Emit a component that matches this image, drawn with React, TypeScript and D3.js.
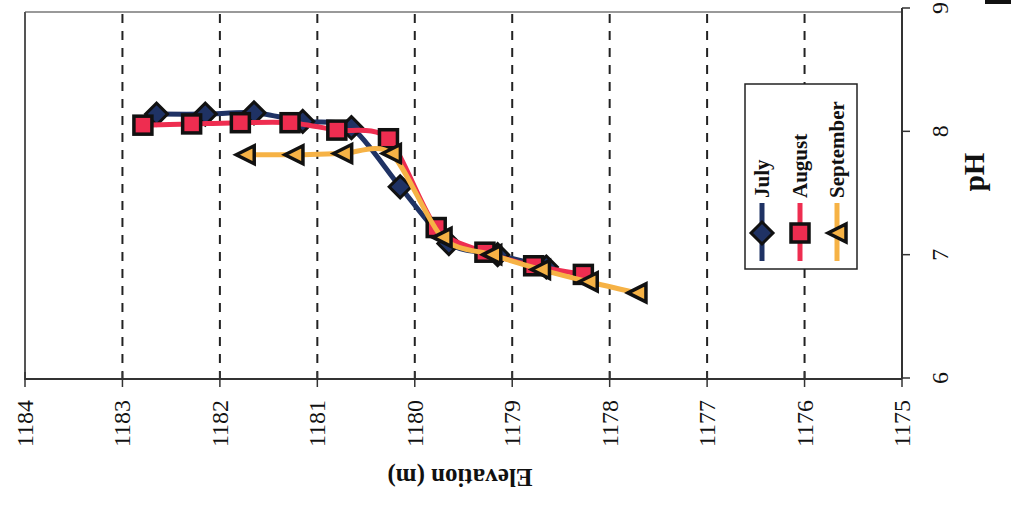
import React from "react";
import * as d3 from "d3";

const julyElev = [1182.65, 1182.15, 1181.65, 1181.15, 1180.65, 1180.15, 1179.65, 1179.15, 1178.65];
const julyPH = [8.14, 8.14, 8.15, 8.08, 8.03, 7.55, 7.09, 7.0, 6.9];
const augElev = [1182.79, 1182.29, 1181.79, 1181.28, 1180.8, 1180.27, 1179.78, 1179.28, 1178.78, 1178.27];
const augPH = [8.05, 8.06, 8.07, 8.07, 8.01, 7.94, 7.22, 7.02, 6.91, 6.84];
const sepElev = [1181.74, 1181.24, 1180.74, 1180.24, 1179.72, 1179.21, 1178.71, 1178.22, 1177.72];
const sepPH = [7.81, 7.81, 7.82, 7.82, 7.14, 7.0, 6.88, 6.78, 6.69];

const elevTicks = [1184, 1183, 1182, 1181, 1180, 1179, 1178, 1177, 1176, 1175];
const phTicks = [6, 7, 8, 9];
const seriesNames = ["July", "August", "September"];

const colors = ["#1f3264", "#ee2d50", "#f6b245"];
const FONT = "'Liberation Serif', 'Times New Roman', serif";

const x = d3.scaleLinear().domain([1184, 1175]).range([25, 902]);
const y = d3.scaleLinear().domain([6, 9]).range([378, 8]);

function marker(kind: number, cx: number, cy: number, fill: string, key?: string) {
  if (kind === 0) {
    const r = 11;
    return (
      <path key={key} d={`M${cx - r},${cy}L${cx},${cy - r}L${cx + r},${cy}L${cx},${cy + r}Z`}
        fill={fill} stroke="#111" strokeWidth={3} strokeLinejoin="miter" />
    );
  }
  if (kind === 1) {
    const s = 9;
    return <rect key={key} x={cx - s} y={cy - s} width={2 * s} height={2 * s} fill={fill} stroke="#111" strokeWidth={3.5} />;
  }
  const h = 9;
  return (
    <path key={key} d={`M${cx - h},${cy}L${cx + h},${cy - h}L${cx + h},${cy + h}Z`}
      fill={fill} stroke="#111" strokeWidth={3.5} strokeLinejoin="miter" />
  );
}

export default function App() {
  const series = [
    { e: julyElev, p: julyPH },
    { e: augElev, p: augPH },
    { e: sepElev, p: sepPH },
  ];
  const line = d3
    .line<[number, number]>()
    .x((d) => x(d[0]))
    .y((d) => y(d[1]))
    .curve(d3.curveCardinal.tension(0.2));

  const legendX = [762, 800, 837];

  return (
    <svg width={1011} height={511} style={{ position: "absolute", left: 0, top: 0, background: "#fff" }} fontFamily={FONT}>
      <rect x={0} y={0} width={1011} height={511} fill="#fff" />
      <rect x={985} y={0} width={26} height={4} fill="#111" />
      {/* gridlines */}
      {elevTicks.slice(1, -1).map((t) => (
        <line key={"g" + t} x1={x(t)} x2={x(t)} y1={14} y2={378} stroke="#222" strokeWidth={2} strokeDasharray="9,8" />
      ))}
      {/* frame */}
      <line x1={25} x2={902} y1={12} y2={12} stroke="#777" strokeWidth={1.5} />
      <line x1={25} x2={25} y1={12} y2={380} stroke="#555" strokeWidth={2} />
      <line x1={25} x2={902} y1={379} y2={379} stroke="#333" strokeWidth={2} />
      <line x1={902} x2={902} y1={8} y2={379} stroke="#333" strokeWidth={2} />
      {elevTicks.map((t) => (
        <g key={"xt" + t}>
          <line x1={x(t)} x2={x(t)} y1={372} y2={387} stroke="#333" strokeWidth={1.5} />
          <text transform={`translate(${x(t) + 8},${400}) rotate(-90)`} textAnchor="end" fontSize={24} fill="#111">
            {t}
          </text>
        </g>
      ))}
      {phTicks.map((t) => (
        <g key={"yt" + t}>
          <line x1={902} x2={910} y1={y(t)} y2={y(t)} stroke="#333" strokeWidth={1.5} />
          <text transform={`translate(${948},${y(t)}) rotate(-90)`} textAnchor="middle" fontSize={24} fill="#111">
            {t}
          </text>
        </g>
      ))}
      <text transform={`translate(984,172) rotate(-90)`} textAnchor="middle" fontSize={29} fontWeight="bold" fill="#111">
        pH
      </text>
      <text transform={`translate(460,469) rotate(180)`} textAnchor="middle" fontSize={25} fontWeight="bold" fill="#111">
        Elevation (m)
      </text>
      {/* series */}
      {series.map((s, i) => {
        const pts = s.e.map((e, j) => [e, s.p[j]] as [number, number]);
        return (
          <g key={"s" + i}>
            <path d={line(pts) || ""} fill="none" stroke={colors[i]} strokeWidth={5} />
            {pts.map((d, j) => marker(i, x(d[0]), y(d[1]), colors[i], `m${i}-${j}`))}
          </g>
        );
      })}
      {/* legend */}
      <rect x={745} y={84} width={112} height={185} fill="#fff" stroke="#222" strokeWidth={1.5} />
      {seriesNames.map((n, i) => (
        <g key={"l" + i}>
          <line x1={legendX[i]} x2={legendX[i]} y1={203} y2={261} stroke={colors[i]} strokeWidth={5} />
          {marker(i, legendX[i], 233, colors[i])}
          <text transform={`translate(${legendX[i] + 7},198) rotate(-90)`} textAnchor="start" fontSize={21} fontWeight="bold" fill="#111">
            {n}
          </text>
        </g>
      ))}
    </svg>
  );
}
